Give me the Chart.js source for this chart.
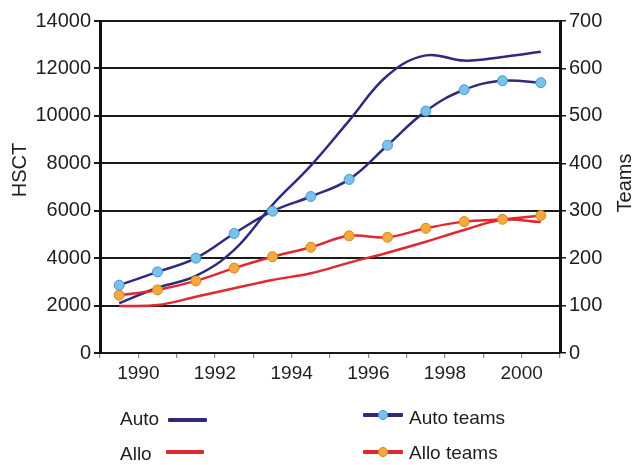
<!DOCTYPE html>
<html>
<head>
<meta charset="utf-8">
<script src="https://cdn.jsdelivr.net/npm/chart.js@4/dist/chart.umd.min.js"></script>
<style>
  html, body { margin: 0; padding: 0; background: #fff; }
  #wrap { position: relative; width: 632px; height: 465px; overflow: hidden; font-family: "Liberation Sans", Arial, sans-serif; color: #1e1e1e; }
  #c { position: absolute; left: 0; top: 0; }
  .lg-text { position: absolute; font-size: 19px; line-height: 22px; white-space: nowrap; }
  .lg-line { position: absolute; height: 4px; border-radius: 1px; }
  .lg-dot { position: absolute; width: 10px; height: 10px; border-radius: 50%; box-sizing: border-box; }
</style>
</head>
<body>
<div id="wrap">
  <canvas id="c" width="632" height="465"></canvas>
  <div class="lg-text" style="left:120px; top:408px;">Auto</div>
  <div class="lg-line" style="left:168px; top:418px; width:39px; background:#2e2b7e;"></div>
  <div class="lg-text" style="left:120px; top:443px;">Allo</div>
  <div class="lg-line" style="left:166px; top:450px; width:38px; background:#e0282e;"></div>

  <div class="lg-line" style="left:363px; top:413px; width:40px; background:#2e2b7e;"></div>
  <div class="lg-dot" style="left:378px; top:410px; background:#78c3ec; border:1px solid #4b96cc;"></div>
  <div class="lg-text" style="left:409px; top:407px;">Auto teams</div>
  <div class="lg-line" style="left:363px; top:450px; width:40px; background:#e0282e;"></div>
  <div class="lg-dot" style="left:378px; top:447px; background:#f5a93c; border:1px solid #d4881f;"></div>
  <div class="lg-text" style="left:409px; top:442px;">Allo teams</div>
</div>
<script>
// ---- data ----
const yearPositions = [1989.5, 1990.5, 1991.5, 1992.5, 1993.5, 1994.5, 1995.5, 1996.5, 1997.5, 1998.5, 1999.5, 2000.5];
const autoHSCT  = [2100, 2750, 3250, 4350, 6250, 7900, 9800, 11700, 12550, 12330, 12480, 12700];
const alloHSCT  = [1980, 2020, 2370, 2730, 3080, 3360, 3810, 4230, 4690, 5190, 5610, 5520];
const autoTeams = [143, 171, 200, 252, 299, 330, 366, 438, 510, 555, 574, 570];
const alloTeams = [122, 133, 152, 179, 203, 223, 247, 244, 263, 277, 282, 290];
const xTickLabels = ['1990', '1992', '1994', '1996', '1998', '2000'];
const leftTitle = 'HSCT';
const rightTitle = 'Teams';

const toPts = (vals) => vals.map((v, i) => ({ x: yearPositions[i], y: v }));

const NAVY = '#2e2b7e';
const RED = '#e0282e';
const FONT = '"Liberation Sans", Arial, sans-serif';
const TXT = '#1e1e1e';

const titlePlugin = {
  id: 'axisTitles',
  afterDraw(chart) {
    const ctx = chart.ctx;
    ctx.save();
    ctx.fillStyle = TXT;
    ctx.font = '20px ' + FONT;
    ctx.textAlign = 'center';
    ctx.textBaseline = 'middle';
    ctx.translate(20, 170);
    ctx.rotate(-Math.PI / 2);
    ctx.fillText(leftTitle, 0, 0);
    ctx.restore();
    ctx.save();
    ctx.fillStyle = TXT;
    ctx.font = '20px ' + FONT;
    ctx.textAlign = 'center';
    ctx.textBaseline = 'middle';
    ctx.translate(625, 183);
    ctx.rotate(-Math.PI / 2);
    ctx.fillText(rightTitle, 0, 0);
    ctx.restore();
  }
};

new Chart(document.getElementById('c'), {
  type: 'line',
  data: {
    datasets: [
      { label: 'Auto teams', data: toPts(autoTeams), yAxisID: 'y2', borderColor: NAVY, borderWidth: 2.5,
        pointRadius: 5, pointBackgroundColor: '#78c3ec', pointBorderColor: '#4b96cc', pointBorderWidth: 1, tension: 0.4 },
      { label: 'Allo teams', data: toPts(alloTeams), yAxisID: 'y2', borderColor: RED, borderWidth: 2.5,
        pointRadius: 5, pointBackgroundColor: '#f5a93c', pointBorderColor: '#d4881f', pointBorderWidth: 1, tension: 0.4 },
      { label: 'Auto', data: toPts(autoHSCT), yAxisID: 'y', borderColor: NAVY, borderWidth: 2.5, pointRadius: 0, tension: 0.4 },
      { label: 'Allo', data: toPts(alloHSCT), yAxisID: 'y', borderColor: RED, borderWidth: 2.5, pointRadius: 0, tension: 0.4 }
    ]
  },
  options: {
    responsive: false,
    animation: false,
    devicePixelRatio: 1,
    layout: { padding: { top: 21, bottom: 72, left: 0, right: 0 } },
    plugins: { legend: { display: false }, tooltip: { enabled: false } },
    scales: {
      x: {
        type: 'linear', min: 1989, max: 2001,
        afterFit(s) { s.height = 40; },
        ticks: { stepSize: 1, autoSkip: false, maxRotation: 0, padding: 4, color: TXT, font: { family: FONT, size: 19 },
          callback: (v) => xTickLabels.includes(String(v)) ? String(v) : '' },
        grid: { drawOnChartArea: false, tickLength: 5, color: '#8a8a8a', lineWidth: 1.2 },
        border: { display: true, color: '#1a1a1a', width: 2 }
      },
      y: {
        position: 'left', min: 0, max: 14000,
        afterFit(s) { s.width = 100; },
        ticks: { stepSize: 2000, padding: 3, color: TXT, font: { family: FONT, size: 20 }, callback: (v) => String(v) },
        grid: { drawOnChartArea: true, tickLength: 6, color: '#1a1a1a', lineWidth: 2 },
        border: { display: true, color: '#111', width: 3 }
      },
      y2: {
        position: 'right', min: 0, max: 700,
        afterFit(s) { s.width = 72; },
        ticks: { stepSize: 100, padding: 3, color: TXT, font: { family: FONT, size: 20 }, callback: (v) => String(v) },
        grid: { drawOnChartArea: false, tickLength: 6, color: '#1a1a1a', lineWidth: 1.5 },
        border: { display: true, color: '#111', width: 3 }
      }
    }
  },
  plugins: [titlePlugin]
});
</script>
</body>
</html>
